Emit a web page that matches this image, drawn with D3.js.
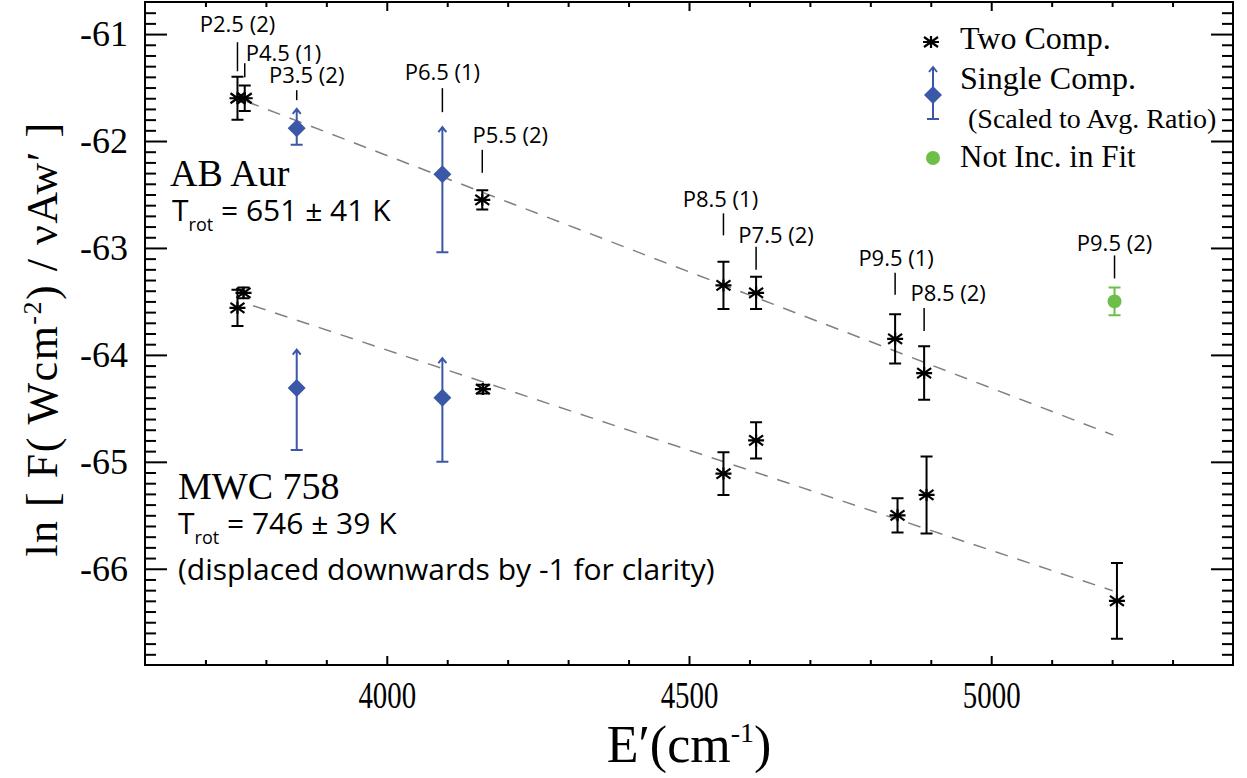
<!DOCTYPE html>
<html>
<head>
<meta charset="utf-8">
<script src="https://cdn.jsdelivr.net/npm/d3@7"></script>
<style>
  body { margin: 0; background: #fff; }
  .serif { font-family: "Liberation Serif", "Times New Roman", serif; }
  .sans { font-family: "Open Sans", "Noto Sans", sans-serif; }
</style>
</head>
<body>
<svg id="chart" width="1247" height="778"></svg>
<script>
// AB Aur, two-component fits
const abTwoE   = [3753, 3765, 4158, 4557, 4611, 4841, 4889];
const abTwoY   = [-61.60, -61.60, -62.55, -63.35, -63.42, -63.85, -64.17];
const abTwoErr = [0.20, 0.12, 0.09, 0.22, 0.15, 0.23, 0.25];

// AB Aur, single-component (scaled), lower/upper errors
const abOneE     = [3851, 4092];
const abOneY     = [-61.88, -62.31];
const abOneErrLo = [0.155, 0.73];
const abOneErrHi = [0.18, 0.44];

// AB Aur, not included in fit
const abOutE   = [5204];
const abOutY   = [-63.50];
const abOutErr = [0.13];

// MWC 758 (displaced by -1), two-component
const mwcTwoE   = [3753, 3763, 4159, 4557, 4611, 4845, 4893, 5208];
const mwcTwoY   = [-63.56, -63.42, -64.32, -65.11, -64.80, -65.50, -65.31, -66.30];
const mwcTwoErr = [0.17, 0.05, 0.04, 0.20, 0.17, 0.16, 0.36, 0.355];

// MWC 758 single-component
const mwcOneE     = [3851, 4092];
const mwcOneY     = [-64.31, -64.40];
const mwcOneErrLo = [0.58, 0.60];
const mwcOneErrHi = [0.36, 0.37];

// fitted lines (end points)
const abFitE  = [3768, 5202];
const abFitY  = [-61.63, -64.75];
const mwcFitE = [3779, 5201];
const mwcFitY = [-63.54, -66.205];

// line labels (attached to AB Aur points)
const lineNames = ["P2.5 (2)", "P4.5 (1)", "P3.5 (2)", "P6.5 (1)", "P5.5 (2)",
                   "P8.5 (1)", "P7.5 (2)", "P9.5 (1)", "P8.5 (2)", "P9.5 (2)"];
const lineE = [3753, 3765, 3851, 4092, 4158, 4557, 4611, 4841, 4889, 5204];
const lineY = [-61.60, -61.60, -61.88, -62.31, -62.55, -63.35, -63.42, -63.85, -64.17, -63.50];

const xTicks = [4000, 4500, 5000];
const yTicks = [-61, -62, -63, -64, -65, -66];

// label layout: [line bottom, line top, text baseline] offsets from point, text dx, anchor
const labelLayout = [
  [-27, -56, -66, 0, "middle"],
  [-21, -35, -37, 1, "start"],
  [-28, -38, -45, 10, "middle"],
  [-62, -86, -94, 0, "middle"],
  [-27, -50, -57, 28, "middle"],
  [-50, -72, -78, -3, "middle"],
  [-23, -46, -50, 20, "middle"],
  [-44, -66, -73, 1, "middle"],
  [-42, -65, -72, 24, "middle"],
  [-23, -46, -50, 0, "middle"]
];

const blue = "#3b57a8";
const green = "#6cbf48";

const svg = d3.select("#chart");
const mLeft = 145, mRight = 1233, mTop = 2, mBottom = 665;

const x = d3.scaleLinear().domain([3600, 5400]).range([mLeft, mRight]);
const y = d3.scaleLinear().domain([-66.9, -60.7]).range([mBottom, mTop]);

const minorX = d3.range(3700, 5400, 100).filter(v => v % 500 !== 0);
const minorY = d3.range(-66.8, -60.7, 0.1).map(v => +v.toFixed(1)).filter(v => Math.abs(v - Math.round(v)) > 0.01);

function styleAxis(g) {
  g.select(".domain").remove();
  g.selectAll("line").attr("stroke", "#000").attr("stroke-width", 2);
}

// axes with inward ticks
svg.append("g").attr("transform", `translate(0,${mBottom})`)
  .call(d3.axisBottom(x).tickValues(xTicks).tickSize(-9).tickPadding(17).tickFormat(d3.format("d")))
  .call(styleAxis)
  .selectAll("text").attr("class", "serif").style("font-size", "37px").attr("fill", "#000")
  .attr("transform", "scale(0.78,1)");
svg.append("g").attr("transform", `translate(0,${mBottom})`)
  .call(d3.axisBottom(x).tickValues(minorX).tickSize(-5).tickFormat(""))
  .call(styleAxis);
svg.append("g").attr("transform", `translate(0,${mTop})`)
  .call(d3.axisTop(x).tickValues(xTicks).tickSize(-9).tickFormat(""))
  .call(styleAxis);
svg.append("g").attr("transform", `translate(0,${mTop})`)
  .call(d3.axisTop(x).tickValues(minorX).tickSize(-5).tickFormat(""))
  .call(styleAxis);

svg.append("g").attr("transform", `translate(${mLeft},0)`)
  .call(d3.axisLeft(y).tickValues(yTicks).tickSize(-22).tickPadding(17).tickFormat(d3.format("d")))
  .call(styleAxis)
  .selectAll("text").attr("class", "serif").style("font-size", "36px").attr("fill", "#000")
  .text(d => "-" + Math.abs(d));
svg.append("g").attr("transform", `translate(${mLeft},0)`)
  .call(d3.axisLeft(y).tickValues(minorY).tickSize(-11).tickFormat(""))
  .call(styleAxis);
svg.append("g").attr("transform", `translate(${mRight},0)`)
  .call(d3.axisRight(y).tickValues(yTicks).tickSize(-22).tickFormat(""))
  .call(styleAxis);
svg.append("g").attr("transform", `translate(${mRight},0)`)
  .call(d3.axisRight(y).tickValues(minorY).tickSize(-11).tickFormat(""))
  .call(styleAxis);

svg.append("rect")
  .attr("x", mLeft).attr("y", mTop).attr("width", mRight - mLeft).attr("height", mBottom - mTop)
  .attr("fill", "none").attr("stroke", "#000").attr("stroke-width", 2);

// axis titles
const yt = svg.append("text").attr("class", "serif")
  .attr("transform", "translate(57,339) rotate(-90)")
  .attr("text-anchor", "middle").style("font-size", "44px").style("letter-spacing", "1.5px");
yt.append("tspan").text("ln [ F( Wcm");
yt.append("tspan").attr("dy", -16).style("font-size", "26px").text("-2");
yt.append("tspan").attr("dy", 16).text(") / νAw′ ]");

const xt = svg.append("text").attr("class", "serif")
  .attr("transform", "translate(689,762)")
  .attr("text-anchor", "middle").style("font-size", "52px");
xt.append("tspan").text("E′(cm");
xt.append("tspan").attr("dy", -20).style("font-size", "28px").text("-1");
xt.append("tspan").attr("dy", 20).text(")");

// fit lines
const line = d3.line().x(d => x(d[0])).y(d => y(d[1]));
[[abFitE, abFitY], [mwcFitE, mwcFitY]].forEach(([es, ys]) => {
  svg.append("path").datum(es.map((e, i) => [e, ys[i]]))
    .attr("d", line).attr("fill", "none")
    .attr("stroke", "#808080").attr("stroke-width", 1.5).attr("stroke-dasharray", "13,10");
});

// markers
const starPath = "M-8,0H8M-7,-5L7,5M-7,5L7,-5M0,-6V6";
const diamondPath = "M0,-9L9,0L0,9L-9,0Z";

function twoComp(es, ys, errs) {
  const pts = es.map((e, i) => ({e, v: ys[i], err: errs[i]}));
  const p = svg.append("g").selectAll("g").data(pts).enter().append("g")
    .attr("transform", d => `translate(${x(d.e)},0)`);
  p.append("path")
    .attr("d", d => `M0,${y(d.v + d.err)}V${y(d.v - d.err)}M-6,${y(d.v + d.err)}H6M-6,${y(d.v - d.err)}H6`)
    .attr("stroke", "#000").attr("stroke-width", 2).attr("fill", "none");
  p.append("path").attr("d", starPath)
    .attr("transform", d => `translate(0,${y(d.v)})`)
    .attr("stroke", "#000").attr("stroke-width", 2.2).attr("fill", "none");
}

function oneComp(es, ys, lo, hi) {
  const pts = es.map((e, i) => ({e, v: ys[i], lo: lo[i], hi: hi[i]}));
  const p = svg.append("g").selectAll("g").data(pts).enter().append("g")
    .attr("transform", d => `translate(${x(d.e)},0)`);
  p.append("path")
    .attr("d", d => {
      const t = y(d.v + d.hi), b = y(d.v - d.lo);
      return `M0,${t}V${b}M-6,${b}H6M-4,${t + 5}L0,${t}L4,${t + 5}`;
    })
    .attr("stroke", blue).attr("stroke-width", 2).attr("fill", "none");
  p.append("path").attr("d", diamondPath)
    .attr("transform", d => `translate(0,${y(d.v)})`)
    .attr("fill", blue);
}

twoComp(abTwoE, abTwoY, abTwoErr);
twoComp(mwcTwoE, mwcTwoY, mwcTwoErr);
oneComp(abOneE, abOneY, abOneErrLo, abOneErrHi);
oneComp(mwcOneE, mwcOneY, mwcOneErrLo, mwcOneErrHi);

// not in fit
const outs = abOutE.map((e, i) => ({e, v: abOutY[i], err: abOutErr[i]}));
const og = svg.append("g").selectAll("g").data(outs).enter().append("g")
  .attr("transform", d => `translate(${x(d.e)},0)`);
og.append("path")
  .attr("d", d => `M0,${y(d.v + d.err)}V${y(d.v - d.err)}M-6,${y(d.v + d.err)}H6M-6,${y(d.v - d.err)}H6`)
  .attr("stroke", green).attr("stroke-width", 2).attr("fill", "none");
og.append("circle").attr("cy", d => y(d.v)).attr("r", 7).attr("fill", green);

// line labels
const lbl = lineNames.map((n, i) => ({n, e: lineE[i], v: lineY[i], lay: labelLayout[i]}));
const lg = svg.append("g").selectAll("g").data(lbl).enter().append("g");
lg.append("line")
  .attr("x1", d => x(d.e)).attr("x2", d => x(d.e))
  .attr("y1", d => y(d.v) + d.lay[0]).attr("y2", d => y(d.v) + d.lay[1])
  .attr("stroke", "#000").attr("stroke-width", 1.5);
lg.append("text").attr("class", "sans")
  .attr("x", d => x(d.e) + d.lay[3]).attr("y", d => y(d.v) + d.lay[2])
  .attr("text-anchor", d => d.lay[4])
  .style("font-size", "22px").text(d => d.n);

// object annotations
function tempText(xp, yp, val) {
  const t = svg.append("text").attr("class", "sans").attr("x", xp).attr("y", yp).style("font-size", "30px");
  t.append("tspan").text("T");
  t.append("tspan").attr("dy", 10).style("font-size", "18px").text("rot");
  t.append("tspan").attr("dy", -10).text(" = " + val);
}
svg.append("text").attr("class", "serif").attr("x", 170).attr("y", 186).style("font-size", "38px").text("AB Aur");
tempText(172, 221, "651 ± 41 K");
svg.append("text").attr("class", "serif").attr("x", 178).attr("y", 499).style("font-size", "38px").text("MWC 758");
tempText(178, 534, "746 ± 39 K");
svg.append("text").attr("class", "sans").attr("x", 178).attr("y", 580).style("font-size", "30px")
  .text("(displaced downwards by -1 for clarity)");

// legend
const leg = svg.append("g");
leg.append("path").attr("d", starPath).attr("transform", "translate(931,42)")
  .attr("stroke", "#000").attr("stroke-width", 2.2).attr("fill", "none");
leg.append("text").attr("class", "serif").attr("x", 960).attr("y", 49).style("font-size", "32px").text("Two Comp.");
leg.append("path").attr("d", "M933,67V119M927,119H939M929,72L933,67L937,72")
  .attr("stroke", blue).attr("stroke-width", 2).attr("fill", "none");
leg.append("path").attr("d", diamondPath).attr("transform", "translate(933,95)").attr("fill", blue);
leg.append("text").attr("class", "serif").attr("x", 960).attr("y", 89).style("font-size", "32px").text("Single Comp.");
leg.append("text").attr("class", "serif").attr("x", 968).attr("y", 128).style("font-size", "28px").text("(Scaled to Avg. Ratio)");
leg.append("circle").attr("cx", 933).attr("cy", 158).attr("r", 7).attr("fill", green);
leg.append("text").attr("class", "serif").attr("x", 960).attr("y", 167).style("font-size", "31px").text("Not Inc. in Fit");
</script>
</body>
</html>
